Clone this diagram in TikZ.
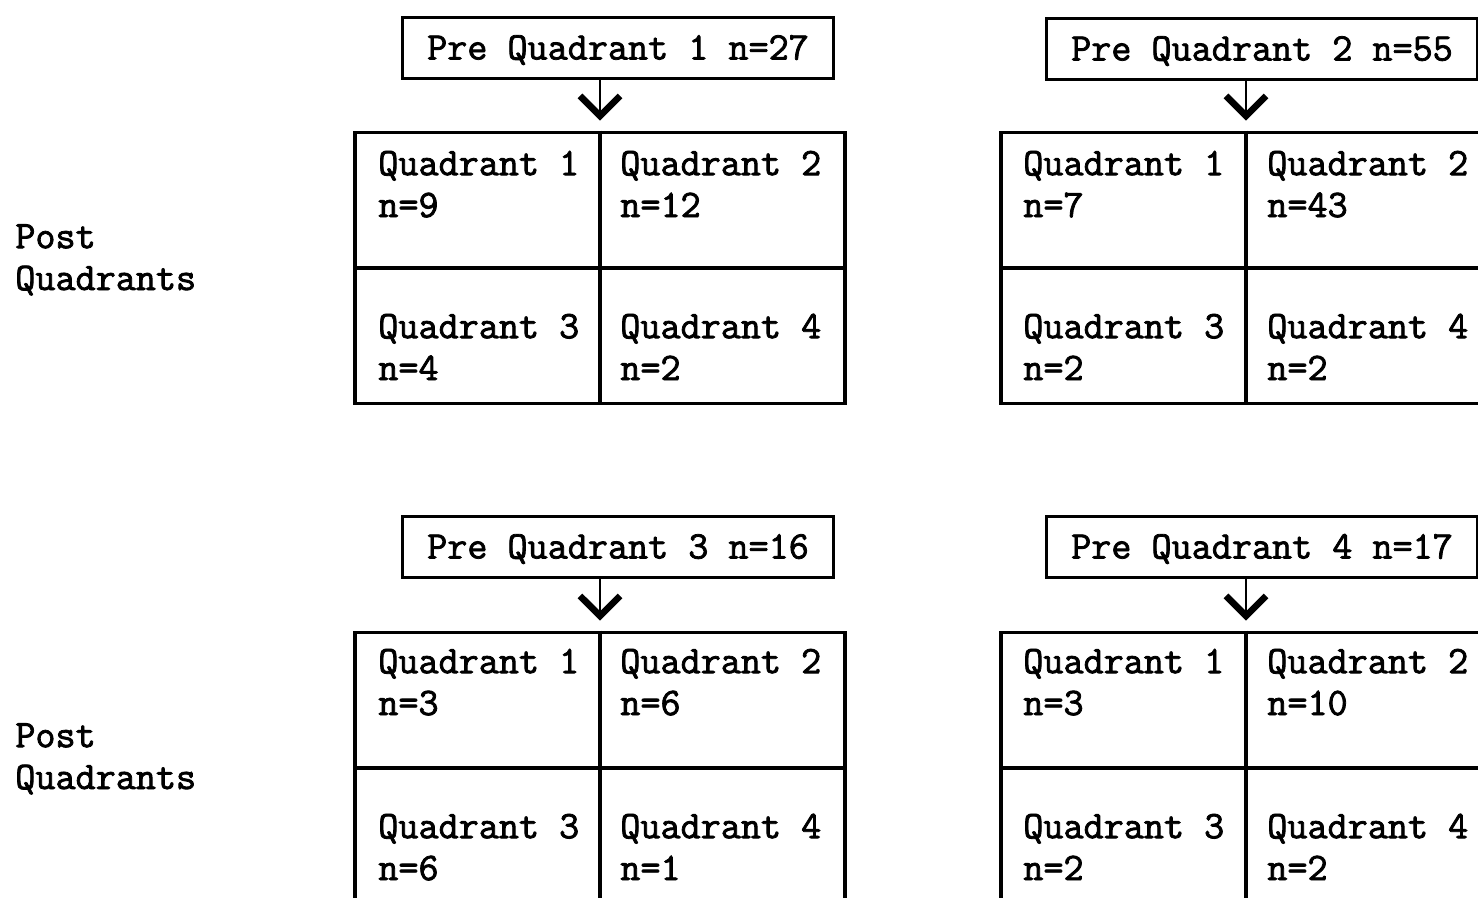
\documentclass[tikz,border=0pt]{standalone}
\usepackage{fontspec}
\newfontfamily\tw{Latin Modern Mono}[FakeBold=2]
\usetikzlibrary{arrows.meta}
\begin{document}
\begin{tikzpicture}[x=0.02cm, y=-0.02cm,
  txt/.style={font=\tw\fontsize{22.2}{23.8}\selectfont, inner sep=0pt, anchor=base west, align=left},
  prebox/.style={draw, line width=2.1pt, minimum width=8.62cm, minimum height=1.22cm,
    inner sep=0pt, text height=0.46cm, text depth=0pt, font=\tw\fontsize{22.2}{23.8}\selectfont},
  quadgrid/.style={draw, line width=2.1pt, minimum width=9.8cm, minimum height=5.42cm, inner sep=0pt},
  divider/.style={line width=2.1pt},
  stem/.style={line width=1.3pt, shorten >=0.2cm,
    -{Straight Barb[length=0.4cm, width=0.8cm, line width=3.8pt]}}]
\useasboundingbox (0,0) rectangle (1478,897);
\clip (0,0) rectangle (1478,897);

% row labels (anchored on the baseline of their last line)
\node[txt] (post1) at (15,290) {Post\\Quadrants};
\node[txt] (post2) at (15,789) {Post\\Quadrants};

% --- pre quadrant 1 ---
\node[prebox] (pre1) at (618,48) {Pre Quadrant 1 n=27};
\node[quadgrid] (g1) at (600,268) {};
\draw[divider] (g1.north) -- (g1.south);
\draw[divider] (g1.west) -- (g1.east);
\draw[stem] (g1.north |- pre1.south) -- (g1.north);
\node[txt] (g1a) at (378,217) {Quadrant 1\\n=9};
\node[txt] (g1b) at (620,217) {Quadrant 2\\n=12};
\node[txt] (g1c) at (378,380) {Quadrant 3\\n=4};
\node[txt] (g1d) at (620,380) {Quadrant 4\\n=2};

% --- pre quadrant 2 ---
\node[prebox] (pre2) at (1262,49) {Pre Quadrant 2 n=55};
\node[quadgrid] (g2) at (1246,268) {};
\draw[divider] (g2.north) -- (g2.south);
\draw[divider] (g2.west) -- (g2.east);
\draw[stem] (g2.north |- pre2.south) -- (g2.north);
\node[txt] (g2a) at (1023,217) {Quadrant 1\\n=7};
\node[txt] (g2b) at (1267,217) {Quadrant 2\\n=43};
\node[txt] (g2c) at (1023,380) {Quadrant 3\\n=2};
\node[txt] (g2d) at (1267,380) {Quadrant 4\\n=2};

% --- pre quadrant 3 ---
\node[prebox] (pre3) at (618,547) {Pre Quadrant 3 n=16};
\node[quadgrid] (g3) at (600,768) {};
\draw[divider] (g3.north) -- (g3.south);
\draw[divider] (g3.west) -- (g3.east);
\draw[stem] (g3.north |- pre3.south) -- (g3.north);
\node[txt] (g3a) at (378,715) {Quadrant 1\\n=3};
\node[txt] (g3b) at (620,715) {Quadrant 2\\n=6};
\node[txt] (g3c) at (378,880) {Quadrant 3\\n=6};
\node[txt] (g3d) at (620,880) {Quadrant 4\\n=1};

% --- pre quadrant 4 ---
\node[prebox] (pre4) at (1262,547) {Pre Quadrant 4 n=17};
\node[quadgrid] (g4) at (1246,768) {};
\draw[divider] (g4.north) -- (g4.south);
\draw[divider] (g4.west) -- (g4.east);
\draw[stem] (g4.north |- pre4.south) -- (g4.north);
\node[txt] (g4a) at (1023,715) {Quadrant 1\\n=3};
\node[txt] (g4b) at (1267,715) {Quadrant 2\\n=10};
\node[txt] (g4c) at (1023,880) {Quadrant 3\\n=2};
\node[txt] (g4d) at (1267,880) {Quadrant 4\\n=2};
\end{tikzpicture}
\end{document}
